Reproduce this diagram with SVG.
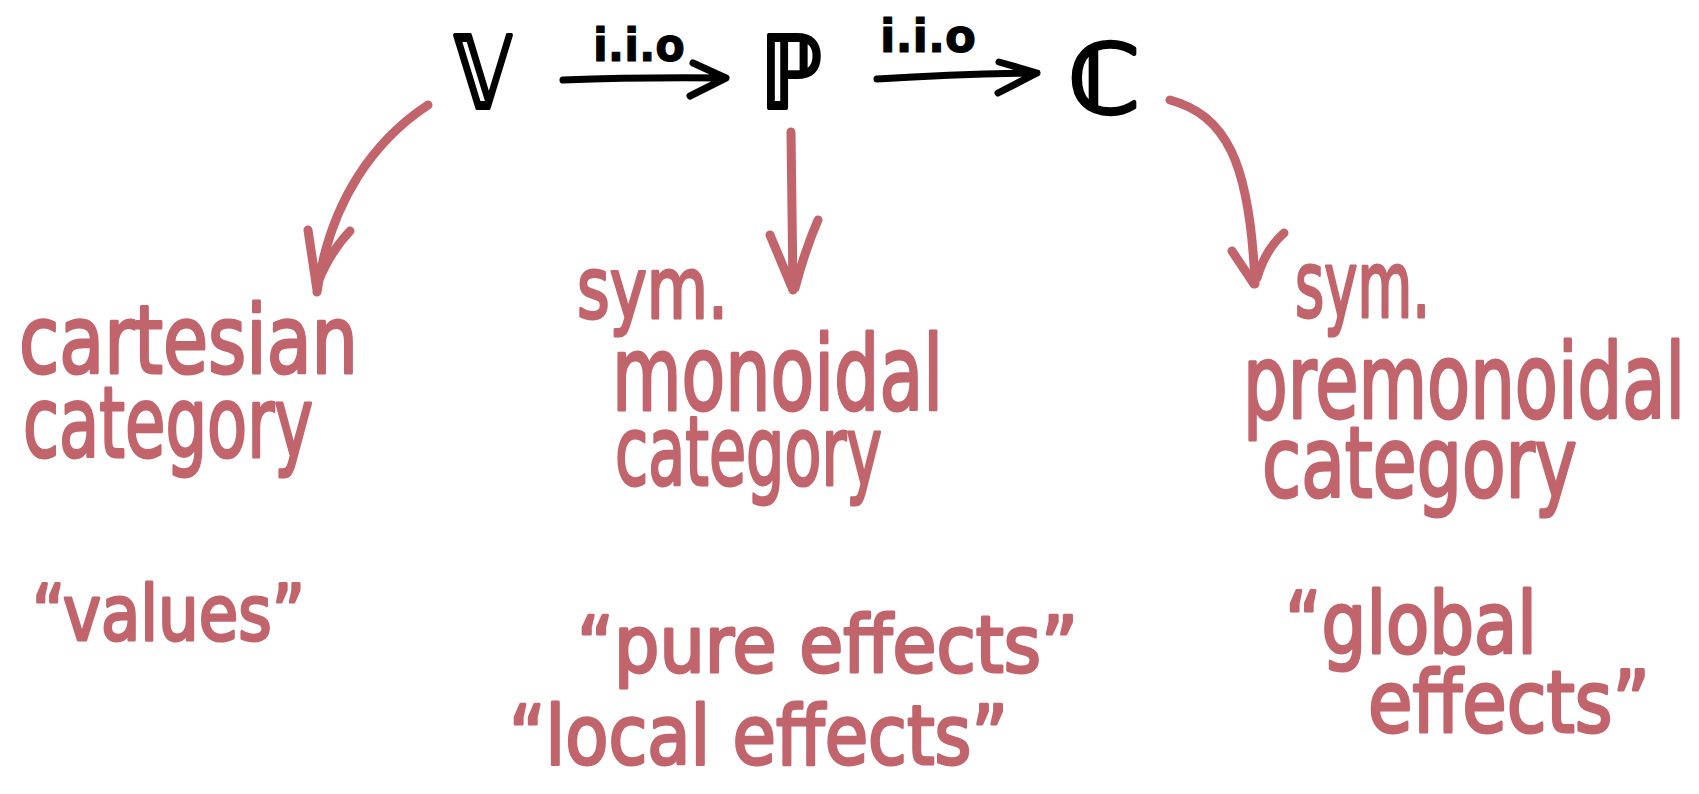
<svg xmlns="http://www.w3.org/2000/svg" width="1699" height="794" viewBox="0 0 1699 794">
<style>
.ink{fill:#000;stroke:#000;stroke-width:4;stroke-linejoin:round;font-family:"DejaVu Sans","Noto Sans",sans-serif}
.lbl{fill:#000;stroke:#000;stroke-width:1;stroke-linejoin:round;font-weight:bold;font-family:"DejaVu Sans","Noto Sans",sans-serif}
.pk{fill:#c1646c;stroke:#c1646c;stroke-width:3;stroke-linejoin:round;font-family:"DejaVu Sans","Noto Sans",sans-serif}
.bline{fill:none;stroke:#000;stroke-width:7;stroke-linecap:round;stroke-linejoin:round}
.pline{fill:none;stroke:#c1646c;stroke-width:9;stroke-linecap:round;stroke-linejoin:round}
</style>
<rect width="1699" height="794" fill="#fff"/>
<g id="node-V"><text class="ink" x="454" y="108" font-size="100" textLength="58" lengthAdjust="spacingAndGlyphs">𝕍</text></g>
<g id="node-P"><text class="ink" x="760" y="108" font-size="100" textLength="62" lengthAdjust="spacingAndGlyphs">ℙ</text></g>
<g id="node-C"><text class="ink" x="1068" y="113" font-size="96" textLength="72" lengthAdjust="spacingAndGlyphs">ℂ</text></g>
<g id="connectors">
  <path class="bline" d="M563,80 Q640,77 726,78 M693,63 L726,78 L690,96"/>
  <text class="lbl" x="593" y="61" font-size="46" textLength="92" lengthAdjust="spacingAndGlyphs">i.i.o</text>
  <path class="bline" d="M877,79 Q960,74 1037,73 M999,62 L1037,73 L998,93"/>
  <text class="lbl" x="880" y="52" font-size="46" textLength="96" lengthAdjust="spacingAndGlyphs">i.i.o</text>
  <path class="pline" d="M428,105 C375,140 330,200 317,292 M308,230 L317,290 M350,231 Q330,252 318,282"/>
  <path class="pline" d="M791,132 L793,290 M770,235 L793,290 M818,220 Q805,250 795,288"/>
  <path class="pline" d="M1170,100 C1225,115 1250,160 1255,284 M1232,251 L1254,284 M1284,233 Q1265,250 1257,278"/>
</g>
<g id="node-cartesian">
  <text class="pk" x="19" y="373" font-size="95" textLength="339" lengthAdjust="spacingAndGlyphs">cartesian</text>
  <text class="pk" x="23" y="457" font-size="98" textLength="290" lengthAdjust="spacingAndGlyphs">category</text>
</g>
<g id="node-smc">
  <text class="pk" x="577" y="318" font-size="86" textLength="151" lengthAdjust="spacingAndGlyphs">sym.</text>
  <text class="pk" x="612" y="410" font-size="103" textLength="331" lengthAdjust="spacingAndGlyphs">monoidal</text>
  <text class="pk" x="615" y="485" font-size="96" textLength="267" lengthAdjust="spacingAndGlyphs">category</text>
</g>
<g id="node-spc">
  <text class="pk" x="1295" y="317" font-size="92" textLength="135" lengthAdjust="spacingAndGlyphs">sym.</text>
  <text class="pk" x="1243" y="418" font-size="103" textLength="442" lengthAdjust="spacingAndGlyphs">premonoidal</text>
  <text class="pk" x="1262" y="497" font-size="98" textLength="315" lengthAdjust="spacingAndGlyphs">category</text>
</g>
<g id="node-values">
  <text class="pk" x="32" y="640" font-size="76" textLength="273" lengthAdjust="spacingAndGlyphs">“values”</text>
</g>
<g id="node-effects">
  <text class="pk" x="577" y="672" font-size="78" textLength="501" lengthAdjust="spacingAndGlyphs">“pure effects”</text>
  <text class="pk" x="509" y="764" font-size="82" textLength="499" lengthAdjust="spacingAndGlyphs">“local effects”</text>
</g>
<g id="node-global">
  <text class="pk" x="1285" y="653" font-size="85" textLength="252" lengthAdjust="spacingAndGlyphs">“global</text>
  <text class="pk" x="1368" y="732" font-size="85" textLength="282" lengthAdjust="spacingAndGlyphs">effects”</text>
</g>
</svg>
